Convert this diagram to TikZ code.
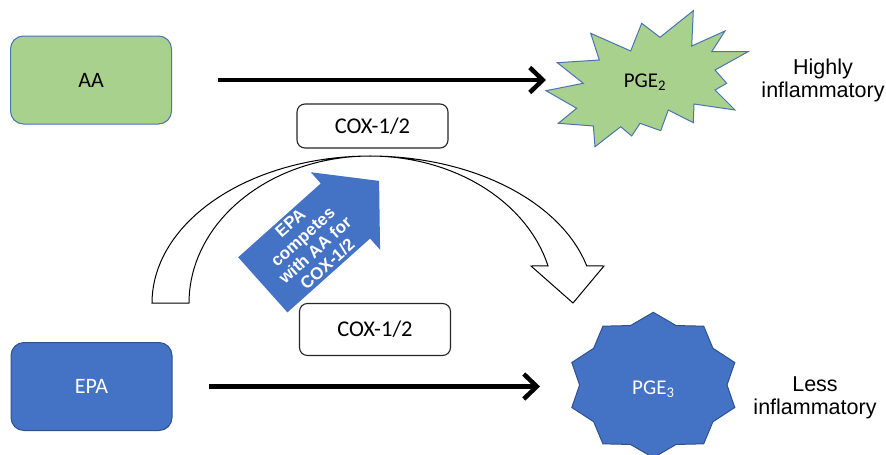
\documentclass[tikz,border=0pt]{standalone}
\usepackage{fontspec}
\setmainfont{Carlito}
\newfontfamily\arialfont{Liberation Sans}
\usetikzlibrary{
  arrows.meta,
  shapes.arrows
}
\definecolor{aagreen}{HTML}{A9D18E}
\definecolor{epablue}{HTML}{4472C4}
\definecolor{edgeblue}{HTML}{2F528F}
\definecolor{lineblue}{HTML}{4A74B4}

\begin{document}
\begin{tikzpicture}[x=1pt,y=-1pt,
      source/.style={
         rectangle,
         rounded corners=13pt,
         minimum width=161pt,
         minimum height=88pt,
         line width=1pt,
         font=\fontsize{22}{26}\selectfont
      },
      enzyme/.style={
         rectangle,
         rounded corners=8pt,
         draw=black!85,
         fill=white,
         line width=1.1pt,
         minimum width=151pt,
         font=\fontsize{22.5}{26}\selectfont
      },
      burst/.style={line width=1pt, line join=miter},
      feed/.style={line width=4.5pt, -{Straight Barb[length=13pt,width=25pt]}},
      effect/.style={align=center, font=\arialfont\fontsize{21.5}{23.5}\selectfont},
      competes/.style={
         single arrow,
         fill=epablue,
         text=white,
         align=center,
         inner xsep=4pt,
         inner ysep=3pt,
         minimum height=156pt,
         single arrow head extend=15pt,
         single arrow tip angle=98,
         font=\arialfont\bfseries\fontsize{17}{18.5}\selectfont
      }
    ]
    \useasboundingbox (0,0) rectangle (886,455);
    % substrates and enzymes
    \node (aa) [source, fill=aagreen, draw=lineblue] at (91,80) {AA};
    \node (epa) [source, fill=epablue, draw=edgeblue, text=white] at (91.5,386.5) {EPA};
    \node (coxtop) [enzyme, minimum height=44pt] at (372.5,126) {COX-1/2};
    \node (coxbot) [enzyme, minimum height=52pt] at (375,329.5) {COX-1/2};
    % PGE2 burst
    \filldraw[burst, fill=aagreen, draw=lineblue] (546,90.7) -- (583.3,83.3) -- (557.3,62.7)
      -- (599.3,60) -- (590.7,33.3) -- (630.7,51) -- (641.7,23.3) -- (660,37.3)
      -- (693.3,10.7) -- (691.7,46) -- (725,31) -- (711.7,51.7) -- (748,51.7)
      -- (715,70) -- (726.7,83.3) -- (715,90) -- (735,110) -- (694,104)
      -- (693.3,122.7) -- (668.3,110) -- (660.7,130.7) -- (640,123.3) -- (631.7,136)
      -- (620.7,126.7) -- (595,146.7) -- (593.3,126) -- (558.3,123.3) -- (576.7,108.3) -- cycle;
    \node (pgetwo) at (645,82) {\fontsize{21}{25}\selectfont PGE\textsubscript{2}};
    % PGE3 star
    \begin{scope}[shift={(653.3,385)}]
      \filldraw[burst, fill=epablue, draw=edgeblue] (90:85.7 and 72.7)
        \foreach \k in {1,...,19}{ -- ({90+18*\k}:{85.7*(1-0.14*mod(\k,2))} and {72.7*(1-0.14*mod(\k,2))}) } -- cycle;
    \end{scope}
    \node (pgethree) [text=white] at (653.3,389) {\fontsize{21}{25}\selectfont PGE\textsubscript{3}};
    \node (high) [effect] at (823,80.3) {Highly\\inflammatory};
    \node (less) [effect] at (815,398) {Less\\inflammatory};
    % conversions
    \coordinate (aaend) at (546,80);
    \coordinate (epaend) at (540,386.5);
    \draw[feed, shorten <=45.5pt] (aa.east) -- (aaend);
    \draw[feed, shorten <=36.5pt] (epa.east) -- (epaend);
    % curved white arrow
    \filldraw[fill=white, draw=black, line width=1pt, line join=miter]
      plot[domain=180:270, samples=40] ({370+218*cos(\x)},{303+147*sin(\x)})
      -- plot[domain=270:345.4, samples=30] ({370+224*cos(\x)},{303+147*sin(\x)})
      -- (604,266) -- (573,303) -- (531,266)
      -- plot[domain=345.4:270, samples=30] ({370+184*cos(\x)},{303+147*sin(\x)})
      -- plot[domain=270:180, samples=40] ({370+181*cos(\x)},{303+147*sin(\x)})
      -- cycle;
    \node (compete) [competes, rotate=41.8, anchor=tip] at (379.3,180.7) {EPA\\competes\\with AA for\\COX-1/2};
\end{tikzpicture}
\end{document}
